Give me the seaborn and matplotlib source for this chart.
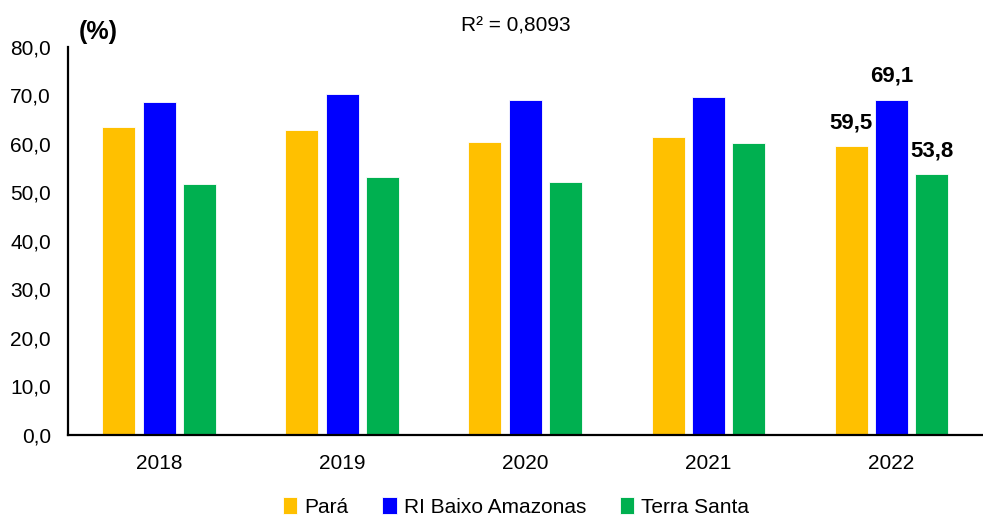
import matplotlib
matplotlib.use("Agg")
import matplotlib.pyplot as plt
import seaborn as sns
import pandas as pd
from matplotlib.ticker import FixedLocator, FuncFormatter

# values
anos = ["2018", "2019", "2020", "2021", "2022"]
series = ["Pará", "RI Baixo Amazonas", "Terra Santa"]
para = [63.4, 62.9, 60.3, 61.4, 59.5]
ri_baixo = [68.7, 70.3, 69.1, 69.7, 69.1]
terra_santa = [51.8, 53.1, 52.2, 60.2, 53.8]
cores = ["#FFC000", "#0000FF", "#00B050"]
r2_texto = "R² = 0,8093"

df = pd.DataFrame({
    "ano": anos * 3,
    "serie": [s for s in series for _ in anos],
    "valor": para + ri_baixo + terra_santa,
})

sns.set_style("white")
plt.rcParams["font.family"] = ["Liberation Sans Narrow", "Liberation Sans", "DejaVu Sans"]
for k in ["text.color", "axes.labelcolor", "xtick.color", "ytick.color"]:
    plt.rcParams[k] = "black"

fig = plt.figure(figsize=(9.83, 5.15), dpi=100)
ax = fig.add_axes([67.5 / 983, 1 - 435 / 515, 1 - 67.5 / 983, (435 - 46.7) / 515])

sns.barplot(data=df, x="ano", y="valor", hue="serie", hue_order=series,
            palette=cores, saturation=1, width=0.66, gap=0.18, edgecolor="white",
            linewidth=0.6, ax=ax, legend=True)

ax.set_ylim(0, 80)
ax.set_xlim(-0.5, 4.5)
ax.set_yticks(range(0, 81, 10))
ax.yaxis.set_major_formatter(FuncFormatter(lambda v, p: f"{v:.1f}".replace(".", ",")))
ax.tick_params(axis="y", direction="in", length=7, width=1.3, labelsize=15, pad=12)
ax.tick_params(axis="x", which="major", length=0, labelsize=15, pad=14)
ax.xaxis.set_minor_locator(FixedLocator([0.5, 1.5, 2.5, 3.5]))
ax.tick_params(axis="x", which="minor", direction="in", length=7, width=1.3)
ax.set_xlabel("")
ax.set_ylabel("")
for s in ["top", "right"]:
    ax.spines[s].set_visible(False)
for s in ["left", "bottom"]:
    ax.spines[s].set_color("black")
    ax.spines[s].set_linewidth(1.6)

# value labels on the last year only
ultimo = [para[-1], ri_baixo[-1], terra_santa[-1]]
for cont, v in zip(ax.containers, ultimo):
    bar = cont.patches[-1]
    ax.text(bar.get_x() + bar.get_width() / 2, v + 2.6,
            f"{v:.1f}".replace(".", ","), ha="center", va="bottom",
            fontsize=16, fontweight="bold")

fig.text(98 / 983, 1 - 32 / 515, "(%)", ha="center", va="center",
         fontsize=18, fontweight="bold")
fig.text(516 / 983, 1 - 26 / 515, r2_texto, ha="center", va="center", fontsize=15)

handles, labels = ax.get_legend_handles_labels()
ax.legend_.remove()
fig.legend(handles, labels, loc="center", bbox_to_anchor=(516 / 983, 1 - 507 / 515),
           ncol=3, frameon=False, fontsize=15, handlelength=0.7, handleheight=0.9,
           handletextpad=0.35, columnspacing=1.6)

fig.savefig("out.png", dpi=100)
